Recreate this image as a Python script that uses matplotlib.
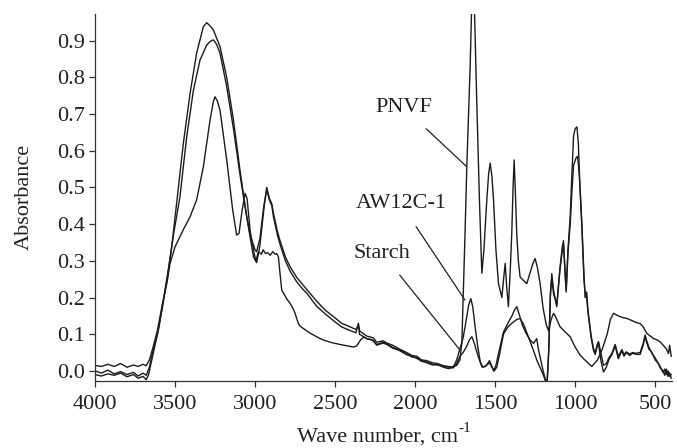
import matplotlib
matplotlib.use("Agg")
import matplotlib.pyplot as plt

plt.rcParams["font.family"] = ["Liberation Serif", "DejaVu Serif"]

# wave numbers (cm-1) and absorbance
starch_wn = [4000, 3960, 3920, 3880, 3840, 3800, 3760, 3730, 3700, 3680, 3660, 3640, 3610, 3580, 3550, 3520,
             3490, 3448, 3406, 3365, 3323, 3302, 3280, 3260, 3219, 3177, 3135, 3094, 3052, 3010, 2990, 2970,
             2945, 2927, 2910, 2895, 2885, 2860, 2844, 2810, 2781, 2740, 2700, 2677, 2615, 2560, 2510, 2460,
             2406, 2370, 2354, 2345, 2302, 2260, 2240, 2200, 2177, 2140, 2100, 2052, 2020, 1990, 1960, 1927,
             1890, 1860, 1823, 1790, 1762, 1740, 1720, 1700, 1680, 1660, 1645, 1630, 1610, 1590, 1575, 1555,
             1535, 1520, 1505, 1490, 1470, 1448, 1420, 1395, 1365, 1344, 1320, 1290, 1260, 1240, 1220, 1200,
             1185, 1175, 1165, 1155, 1146, 1135, 1115, 1095, 1080, 1073, 1062, 1056, 1045, 1031, 1020, 1010,
             1000, 989, 980, 970, 958, 945, 937, 930, 920, 900, 885, 875, 860, 854, 840, 823, 805, 790, 770,
             750, 740, 730, 708, 695, 680, 660, 640, 620, 594, 575, 563, 555, 540, 520, 500, 480, 469, 450,
             440, 430, 420, 410, 400]
starch_abs = [0.000, -0.006, 0.002, -0.008, -0.002, -0.010, -0.004, -0.014, -0.006, -0.012, 0.010, 0.050,
              0.100, 0.170, 0.250, 0.340, 0.456, 0.620, 0.756, 0.866, 0.938, 0.949, 0.940, 0.929, 0.884, 0.800,
              0.684, 0.547, 0.420, 0.311, 0.295, 0.340, 0.440, 0.500, 0.470, 0.455, 0.430, 0.380, 0.355, 0.310,
              0.284, 0.255, 0.234, 0.222, 0.190, 0.165, 0.148, 0.130, 0.120, 0.113, 0.125, 0.108, 0.095, 0.090,
              0.078, 0.082, 0.076, 0.070, 0.060, 0.050, 0.042, 0.040, 0.030, 0.028, 0.022, 0.020, 0.014, 0.012,
              0.008, 0.020, 0.040, 0.050, 0.065, 0.085, 0.093, 0.075, 0.045, 0.020, 0.010, 0.015, 0.022, 0.010,
              0.000, 0.010, 0.050, 0.100, 0.120, 0.130, 0.140, 0.143, 0.125, 0.090, 0.055, 0.030, 0.010, -0.010,
              -0.028, -0.030, 0.050, 0.200, 0.265, 0.220, 0.175, 0.280, 0.340, 0.355, 0.260, 0.215, 0.330, 0.420,
              0.540, 0.640, 0.660, 0.665, 0.620, 0.500, 0.400, 0.260, 0.200, 0.210, 0.160, 0.090, 0.055, 0.045,
              0.070, 0.075, 0.030, -0.003, 0.010, 0.030, 0.045, 0.068, 0.050, 0.033, 0.055, 0.040, 0.050, 0.042,
              0.048, 0.045, 0.045, 0.070, 0.095, 0.080, 0.060, 0.050, 0.030, 0.020, 0.008, 0.000, -0.012, 0.005,
              -0.015, -0.005, -0.020]

aw_wn = [4000, 3960, 3920, 3880, 3840, 3800, 3760, 3730, 3700, 3680, 3665, 3650, 3630, 3600, 3570, 3540, 3510,
         3469, 3427, 3385, 3344, 3302, 3280, 3260, 3240, 3219, 3177, 3135, 3094, 3060, 3030, 3000, 2990, 2970,
         2945, 2927, 2910, 2895, 2885, 2860, 2844, 2810, 2781, 2740, 2700, 2677, 2615, 2560, 2510, 2460, 2406,
         2370, 2354, 2348, 2302, 2260, 2240, 2200, 2177, 2140, 2100, 2052, 2020, 1990, 1960, 1927, 1890, 1860,
         1823, 1790, 1762, 1740, 1720, 1700, 1680, 1665, 1652, 1640, 1625, 1610, 1595, 1583, 1560, 1535, 1520,
         1510, 1495, 1480, 1448, 1420, 1395, 1380, 1365, 1350, 1330, 1310, 1281, 1260, 1240, 1230, 1215, 1200,
         1185, 1175, 1165, 1155, 1146, 1135, 1115, 1095, 1080, 1073, 1062, 1056, 1045, 1031, 1020, 1010, 995,
         985, 975, 965, 955, 945, 937, 928, 920, 900, 885, 875, 860, 854, 840, 823, 805, 790, 770, 750, 740,
         730, 708, 695, 680, 660, 640, 620, 594, 575, 563, 555, 540, 520, 500, 480, 469, 450, 440, 430, 420,
         410, 400]
aw_abs = [-0.010, -0.014, -0.008, -0.012, -0.006, -0.016, -0.010, -0.020, -0.015, -0.024, -0.010, 0.020, 0.060,
          0.120, 0.200, 0.280, 0.370, 0.475, 0.638, 0.765, 0.847, 0.888, 0.898, 0.902, 0.890, 0.866, 0.775, 0.660,
          0.535, 0.440, 0.370, 0.330, 0.325, 0.360, 0.450, 0.495, 0.465, 0.450, 0.420, 0.370, 0.345, 0.300, 0.272,
          0.243, 0.222, 0.212, 0.176, 0.155, 0.137, 0.120, 0.110, 0.104, 0.130, 0.100, 0.088, 0.083, 0.070, 0.076,
          0.072, 0.062, 0.056, 0.044, 0.040, 0.034, 0.028, 0.022, 0.016, 0.018, 0.010, 0.006, 0.010, 0.030, 0.060,
          0.090, 0.140, 0.180, 0.197, 0.175, 0.120, 0.070, 0.030, 0.011, 0.012, 0.028, 0.012, 0.000, 0.015, 0.045,
          0.106, 0.130, 0.150, 0.165, 0.175, 0.155, 0.125, 0.105, 0.084, 0.075, 0.088, 0.060, 0.030, 0.000, -0.025,
          -0.030, 0.060, 0.210, 0.255, 0.210, 0.180, 0.275, 0.330, 0.345, 0.260, 0.220, 0.320, 0.400, 0.490, 0.560,
          0.580, 0.585, 0.540, 0.460, 0.360, 0.250, 0.205, 0.215, 0.165, 0.095, 0.060, 0.050, 0.075, 0.080, 0.050,
          0.015, 0.020, 0.035, 0.048, 0.072, 0.055, 0.040, 0.058, 0.045, 0.052, 0.046, 0.050, 0.048, 0.050, 0.075,
          0.098, 0.085, 0.065, 0.048, 0.035, 0.020, 0.012, -0.005, 0.005, -0.010, 0.000, -0.015, -0.010]

pnvf_wn = [4000, 3960, 3920, 3880, 3840, 3800, 3760, 3730, 3700, 3680, 3660, 3640, 3610, 3580, 3550, 3531, 3500,
           3470, 3448, 3406, 3365, 3323, 3281, 3260, 3250, 3235, 3219, 3177, 3140, 3115, 3100, 3080, 3062, 3050,
           3030, 3010, 2995, 2979, 2960, 2950, 2935, 2920, 2905, 2890, 2875, 2865, 2854, 2845, 2833, 2800, 2781,
           2760, 2750, 2730, 2719, 2680, 2656, 2615, 2573, 2520, 2469, 2420, 2385, 2365, 2340, 2320, 2302, 2270,
           2240, 2200, 2177, 2140, 2100, 2052, 2020, 1990, 1960, 1927, 1890, 1860, 1823, 1790, 1762, 1740, 1720,
           1708, 1688, 1677, 1656, 1645, 1638, 1630, 1615, 1598, 1583, 1570, 1552, 1540, 1531, 1520, 1510, 1495,
           1479, 1458, 1445, 1437, 1428, 1417, 1405, 1396, 1388, 1381, 1373, 1365, 1355, 1344, 1320, 1302, 1280,
           1262, 1250, 1235, 1219, 1200, 1180, 1167, 1150, 1135, 1125, 1094, 1060, 1031, 1000, 969, 940, 920,
           906, 896, 860, 830, 800, 780, 760, 740, 720, 700, 677, 650, 620, 594, 575, 552, 530, 510, 490, 469,
           450, 430, 417, 410, 400]
pnvf_abs = [0.015, 0.012, 0.018, 0.012, 0.020, 0.010, 0.016, 0.012, 0.018, 0.014, 0.030, 0.060, 0.110, 0.180,
            0.240, 0.293, 0.338, 0.365, 0.385, 0.420, 0.466, 0.556, 0.684, 0.735, 0.747, 0.735, 0.711, 0.575,
            0.440, 0.370, 0.375, 0.440, 0.484, 0.470, 0.380, 0.330, 0.300, 0.325, 0.318, 0.330, 0.320, 0.322,
            0.315, 0.325, 0.318, 0.320, 0.311, 0.270, 0.220, 0.195, 0.184, 0.168, 0.157, 0.130, 0.122, 0.110,
            0.103, 0.093, 0.084, 0.077, 0.072, 0.068, 0.065, 0.068, 0.085, 0.092, 0.088, 0.085, 0.072, 0.078,
            0.074, 0.064, 0.058, 0.046, 0.038, 0.036, 0.026, 0.024, 0.018, 0.016, 0.012, 0.010, 0.012, 0.015,
            0.030, 0.075, 0.375, 0.556, 0.830, 1.020, 1.050, 1.000, 0.738, 0.466, 0.266, 0.330, 0.466, 0.540,
            0.566, 0.530, 0.466, 0.330, 0.238, 0.200, 0.260, 0.293, 0.230, 0.175, 0.280, 0.375, 0.500, 0.575,
            0.480, 0.375, 0.300, 0.256, 0.245, 0.238, 0.270, 0.295, 0.306, 0.280, 0.238, 0.170, 0.125, 0.110,
            0.140, 0.157, 0.150, 0.120, 0.105, 0.093, 0.065, 0.043, 0.030, 0.022, 0.016, 0.012, 0.030, 0.060,
            0.100, 0.140, 0.157, 0.152, 0.148, 0.145, 0.143, 0.138, 0.132, 0.129, 0.120, 0.102, 0.095, 0.088,
            0.085, 0.079, 0.070, 0.060, 0.047, 0.070, 0.040]

y_ticks = [0.0, 0.1, 0.2, 0.3, 0.4, 0.5, 0.6, 0.7, 0.8, 0.9]
x_ticks = [4000, 3500, 3000, 2500, 2000, 1500, 1000, 500]

line_color = "#1c1c1c"

fig = plt.figure(figsize=(6.77, 4.48), dpi=100)
ax = fig.add_axes([0.1403, 0.150, 0.8523, 0.819])

ax.plot(starch_wn, starch_abs, color=line_color, lw=1.0)
ax.plot(aw_wn, aw_abs, color=line_color, lw=1.0)
ax.plot(pnvf_wn, pnvf_abs, color=line_color, lw=1.0)

ax.set_xlim(4000, 395)
ax.set_ylim(-0.027, 0.973)
ax.set_xticks(x_ticks)
ax.set_yticks(y_ticks)
ax.set_yticklabels([f"{v:.1f}" for v in y_ticks])

for s in ["top", "right"]:
    ax.spines[s].set_visible(False)
for s in ["left", "bottom"]:
    ax.spines[s].set_color("#333333")
    ax.spines[s].set_linewidth(0.9)
ax.tick_params(axis="both", labelsize=16, colors="#333333", labelcolor="#222222",
               direction="out", length=4, width=0.9)
ax.tick_params(axis="y", pad=3)
ax.tick_params(axis="x", pad=6)

ax.set_ylabel("Absorbance", fontsize=16, color="#222222", labelpad=17)

# series labels with leader lines (pixel positions converted to axes fractions)
def px(x, y):
    return ((x - 95) / 577, (380.7 - y) / 366.7)

ax.annotate("PNVF", xy=px(466.7, 166.7), xycoords="axes fraction",
            xytext=px(404, 108), textcoords="axes fraction",
            fontsize=16, color="#222222", ha="center", va="center",
            arrowprops=dict(arrowstyle="-", color="#222222", lw=0.9, shrinkA=9, shrinkB=0))
ax.annotate("AW12C-1", xy=px(465, 300), xycoords="axes fraction",
            xytext=px(401, 204), textcoords="axes fraction",
            fontsize=16, color="#222222", ha="center", va="center",
            arrowprops=dict(arrowstyle="-", color="#222222", lw=0.9, shrinkA=9, shrinkB=0))
ax.annotate("Starch", xy=px(460, 350), xycoords="axes fraction",
            xytext=px(382, 253), textcoords="axes fraction",
            fontsize=16, color="#222222", ha="center", va="center",
            arrowprops=dict(arrowstyle="-", color="#222222", lw=0.9, shrinkA=9, shrinkB=0))

fig.text(0.558, 0.024, "Wave number, cm", fontsize=16, color="#222222", ha="center", va="center")
fig.text(0.686, 0.043, "-1", fontsize=11, color="#222222", ha="center", va="center")

fig.savefig("out.png", dpi=100)
